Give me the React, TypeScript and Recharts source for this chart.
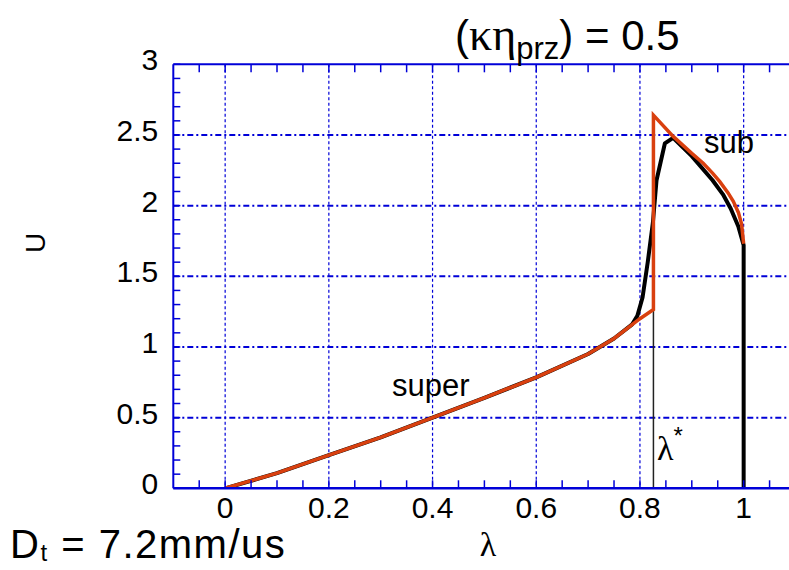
import React from "react";
import { ComposedChart, Line, XAxis, YAxis, CartesianGrid } from "recharts";

// Orange curve (model): super branch, jump at lambda*, sub branch
const orangeLambda = [0, 0.1, 0.2, 0.3, 0.4, 0.5, 0.6, 0.7, 0.75, 0.8, 0.826, 0.826, 0.864, 0.9, 0.922, 0.94, 0.954, 0.97, 0.98, 0.99, 0.996, 1.0];
const orangeU = [0, 0.107, 0.235, 0.36, 0.5, 0.64, 0.785, 0.95, 1.06, 1.2, 1.265, 2.64, 2.49, 2.37, 2.3, 2.23, 2.17, 2.09, 2.03, 1.95, 1.87, 1.73];

// Black curve (computed)
const blackLambda = [0, 0.1, 0.2, 0.3, 0.4, 0.5, 0.6, 0.7, 0.75, 0.785, 0.795, 0.805, 0.815, 0.825, 0.832, 0.848, 0.864, 0.9, 0.94, 0.96, 0.975, 0.99, 1.0, 1.0];
const blackU = [0, 0.107, 0.235, 0.36, 0.5, 0.64, 0.785, 0.95, 1.06, 1.16, 1.22, 1.35, 1.6, 1.88, 2.18, 2.44, 2.48, 2.35, 2.18, 2.08, 1.98, 1.85, 1.72, 0];

// lambda* marker line
const starLambda = [0.826, 0.826];
const starU = [0, 1.265];

// axes
const xTicks = [-0.05, 0, 0.05, 0.1, 0.15, 0.2, 0.25, 0.3, 0.35, 0.4, 0.45, 0.5, 0.55, 0.6, 0.65, 0.7, 0.75, 0.8, 0.85, 0.9, 0.95, 1, 1.05];
const xLabels = ["0", "0.2", "0.4", "0.6", "0.8", "1"];
const yTicks = [0, 0.1, 0.2, 0.3, 0.4, 0.5, 0.6, 0.7, 0.8, 0.9, 1, 1.1, 1.2, 1.3, 1.4, 1.5, 1.6, 1.7, 1.8, 1.9, 2, 2.1, 2.2, 2.3, 2.4, 2.5, 2.6, 2.7, 2.8, 2.9, 3];
const yLabels = ["0", "0.5", "1", "1.5", "2", "2.5", "3"];
const xGrid = [0, 0.2, 0.4, 0.6, 0.8, 1];
const yGrid = [0.5, 1, 1.5, 2, 2.5];

const orangeData = orangeLambda.map((x, i) => ({ x, u: orangeU[i] }));
const blackData = blackLambda.map((x, i) => ({ x, u: blackU[i] }));
const starData = starLambda.map((x, i) => ({ x, u: starU[i] }));

const BLUE = "#0000d8";
const FONT = "'Liberation Sans', Arial, Helvetica, sans-serif";
const SERIF = "'Liberation Serif', 'DejaVu Serif', serif";

const fmt = (v: number) => String(Math.round(v * 100) / 100);

const BottomTick = (props: any) => {
  const { x, y, payload } = props;
  const label = fmt(payload.value);
  return (
    <g>
      <line x1={x} y1={y} x2={x} y2={y - 8} stroke={BLUE} strokeWidth={1.5} />
      {xLabels.includes(label) && (
        <text x={x} y={y + 30} textAnchor="middle" fontSize={30} fontFamily={FONT} fill="#000">
          {label}
        </text>
      )}
    </g>
  );
};

const TopTick = (props: any) => {
  const { x, y } = props;
  return <line x1={x} y1={y} x2={x} y2={y + 8} stroke={BLUE} strokeWidth={1.5} />;
};

const LeftTick = (props: any) => {
  const { x, y, payload } = props;
  const label = fmt(payload.value);
  const isMajor = yLabels.includes(label);
  return (
    <g>
      <line x1={x} y1={y} x2={x + 7} y2={y} stroke={BLUE} strokeWidth={1.5} />
      {isMajor && (
        <text x={x - 15} y={y + 6} textAnchor="end" fontSize={30} fontFamily={FONT} fill="#000">
          {label}
        </text>
      )}
    </g>
  );
};

export default function App() {
  return (
    <div style={{ position: "absolute", left: 0, top: 0, width: 789, height: 570, overflow: "hidden", background: "#fff" }}>
      <ComposedChart
        width={830}
        height={570}
        margin={{ top: 54.3, right: 34.5, bottom: 41.7, left: 113.3 }}
      >
        <CartesianGrid
          horizontal={false}
          vertical={true}
          verticalValues={xGrid}
          stroke={BLUE}
          strokeWidth={1.2}
          strokeDasharray="3 2.5"
        />
        <CartesianGrid
          horizontal={true}
          vertical={false}
          horizontalValues={yGrid}
          stroke={BLUE}
          strokeWidth={2}
          strokeDasharray="6 3 2 3"
        />
        <XAxis
          xAxisId={0}
          type="number"
          dataKey="x"
          domain={[-0.1, 1.1]}
          allowDataOverflow
          ticks={xTicks}
          interval={0}
          tickLine={false}
          tickSize={0}
          tickMargin={0}
          tick={<BottomTick />}
          height={40}
          axisLine={{ stroke: BLUE, strokeWidth: 2.5 }}
        />
        <XAxis
          xAxisId="top"
          orientation="top"
          type="number"
          dataKey="x"
          domain={[-0.1, 1.1]}
          allowDataOverflow
          ticks={xTicks}
          interval={0}
          tickLine={false}
          tickSize={0}
          tickMargin={0}
          tick={<TopTick />}
          height={10}
          axisLine={{ stroke: BLUE, strokeWidth: 2 }}
        />
        <YAxis
          type="number"
          domain={[0, 3]}
          allowDataOverflow
          ticks={yTicks}
          interval={0}
          tickLine={false}
          tickSize={0}
          tickMargin={0}
          tick={<LeftTick />}
          width={60}
          axisLine={{ stroke: BLUE, strokeWidth: 2 }}
        />
        <Line
          data={starData}
          dataKey="u"
          type="linear"
          stroke="#222"
          strokeWidth={1.5}
          dot={false}
          isAnimationActive={false}
        />
        <Line
          data={blackData}
          dataKey="u"
          type="linear"
          stroke="#000"
          strokeWidth={4}
          dot={false}
          strokeLinejoin="round"
          isAnimationActive={false}
        />
        <Line
          data={orangeData}
          dataKey="u"
          type="linear"
          stroke="#d9400f"
          strokeWidth={3.5}
          dot={false}
          strokeLinejoin="miter"
          isAnimationActive={false}
        />
      </ComposedChart>
      <svg
        width={789}
        height={570}
        style={{ position: "absolute", left: 0, top: 0, pointerEvents: "none" }}
      >
        <text x={455} y={50} fontSize={42} fontFamily={FONT} fill="#000">
          (
          <tspan fontFamily={SERIF} fontSize={46}>κη</tspan>
          <tspan fontSize={31} dy={9}>prz</tspan>
          <tspan dy={-9}>) = 0.5</tspan>
        </text>
        <text x={10} y={558} fontSize={40} letterSpacing={1.5} fontFamily={FONT} fill="#000">
          D
          <tspan fontSize={24} dy={3}>t</tspan>
          <tspan dy={-3}> = 7.2mm/us</tspan>
        </text>
        <text x={488} y={556} textAnchor="middle" fontSize={34} fontFamily={SERIF} fill="#000">
          λ
        </text>
        <text
          x={0}
          y={0}
          transform="translate(45 243) rotate(-90)"
          textAnchor="middle"
          fontSize={28}
          fontFamily={FONT}
          fill="#000"
        >
          U
        </text>
        <text x={704} y={153} fontSize={31} fontFamily={FONT} fill="#000">
          sub
        </text>
        <text x={392} y={396} fontSize={31} fontFamily={FONT} fill="#000">
          super
        </text>
        <text x={657} y={460} fontSize={34} fontFamily={SERIF} fill="#000">
          λ
          <tspan fontSize={24} dy={-16} fontFamily={FONT}>*</tspan>
        </text>
      </svg>
    </div>
  );
}
